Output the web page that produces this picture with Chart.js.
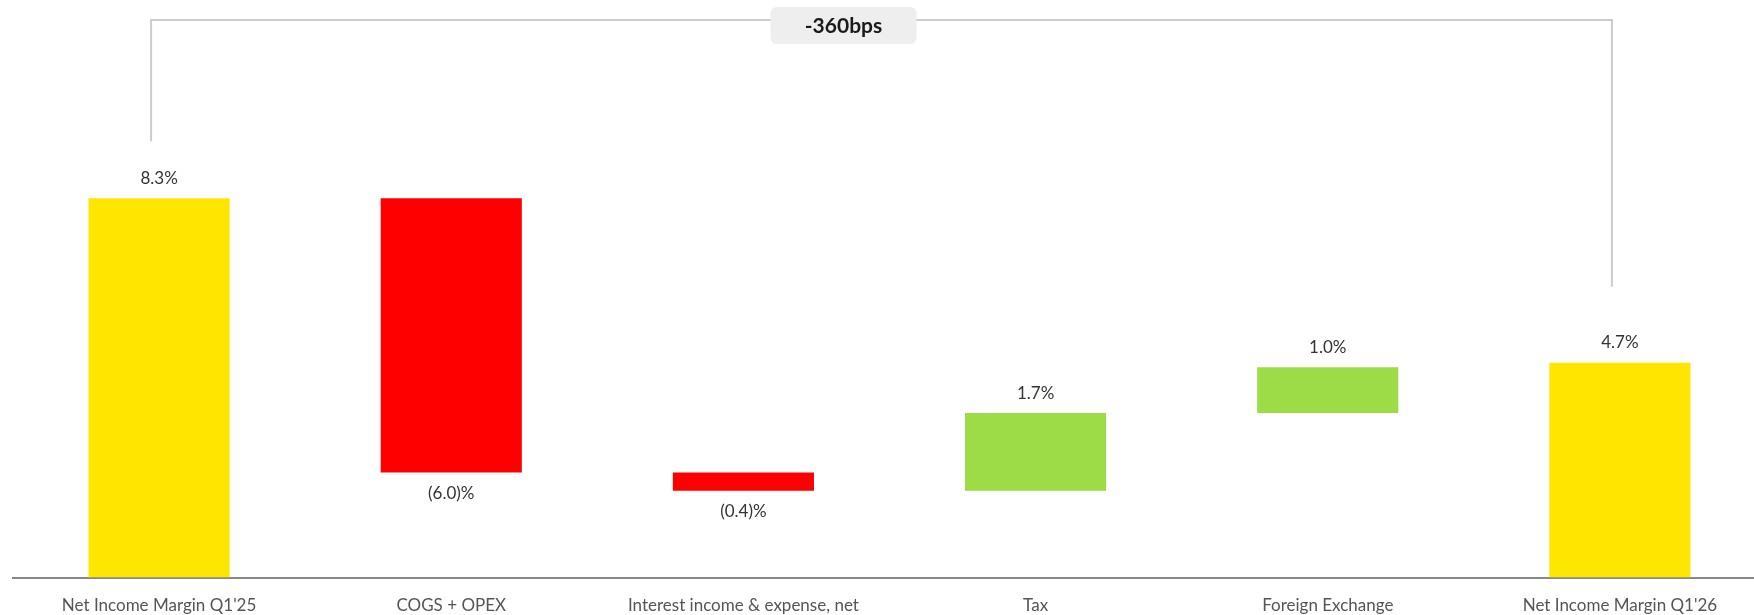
<!DOCTYPE html>
<html>
<head>
<meta charset="utf-8">
<script src="https://cdn.jsdelivr.net/npm/chart.js@4"></script>
<style>
  html, body { margin: 0; padding: 0; background: #fff; overflow: hidden; }
  #wrap { width: 1766px; height: 634px; }
</style>
</head>
<body>
<div id="wrap"><canvas id="grafico"></canvas></div>
<script>
// categorias e valores (em %)
const categorias = ["Net Income Margin Q1'25", "COGS + OPEX", "Interest income & expense, net", "Tax", "Foreign Exchange", "Net Income Margin Q1'26"];
const valores = [8.3, -6.0, -0.4, 1.7, 1.0, 4.7];
const tipos = ["total", "delta", "delta", "delta", "delta", "total"];
const rotuloVariacao = "-360bps";

const corTotal = "#FFE600";
const corNegativo = "#FF0000";
const corPositivo = "#9DDB47";

// monta as barras flutuantes a partir dos valores
let acumulado = 0;
const faixas = valores.map((v, i) => {
    if (tipos[i] === "total") {
        acumulado = v;
        return [0, v];
    }
    const inicio = acumulado;
    acumulado = +(acumulado + v).toFixed(2);
    return [inicio, acumulado];
});
const cores = valores.map((v, i) => tipos[i] === "total" ? corTotal : (v < 0 ? corNegativo : corPositivo));

function formatar(v) {
    return v < 0 ? "(" + Math.abs(v).toFixed(1) + ")%" : v.toFixed(1) + "%";
}

const fonte = "Lato, 'Open Sans', sans-serif";

// rotulos de valor
const pluginRotulos = {
    id: "rotulos",
    afterDatasetsDraw(chart) {
        const ctx = chart.ctx;
        const meta = chart.getDatasetMeta(0);
        ctx.save();
        ctx.font = "17px " + fonte;
        ctx.fillStyle = "#333";
        ctx.textAlign = "center";
        ctx.textBaseline = "middle";
        meta.data.forEach((bar, i) => {
            const topo = Math.min(bar.y, bar.base);
            const fundo = Math.max(bar.y, bar.base);
            const y = valores[i] < 0 ? fundo + 21 : topo - 20;
            ctx.fillText(formatar(valores[i]), bar.x, y);
        });
        ctx.restore();
    }
};

// colchete com a variacao
const pluginColchete = {
    id: "colchete",
    afterDatasetsDraw(chart) {
        const ctx = chart.ctx;
        const meta = chart.getDatasetMeta(0);
        const a = meta.data[0], b = meta.data[meta.data.length - 1];
        const xa = a.x - 8, xb = b.x - 8;
        const yTopo = 20;
        ctx.save();
        ctx.strokeStyle = "#cccccc";
        ctx.lineWidth = 2;
        ctx.beginPath();
        ctx.moveTo(xa, Math.min(a.y, a.base) - 57);
        ctx.lineTo(xa, yTopo);
        ctx.lineTo(xb, yTopo);
        ctx.lineTo(xb, Math.min(b.y, b.base) - 76);
        ctx.stroke();

        const cx = (xa + xb) / 2 - 38;
        const w = 146, h = 37;
        ctx.fillStyle = "#eeeeee";
        ctx.beginPath();
        ctx.roundRect(cx - w / 2, 7, w, h, 6);
        ctx.fill();
        ctx.font = "bold 21px " + fonte;
        ctx.fillStyle = "#1a1a1a";
        ctx.textAlign = "center";
        ctx.textBaseline = "middle";
        ctx.fillText(rotuloVariacao, cx, 26);
        ctx.restore();
    }
};

const grafico = new Chart(document.getElementById("grafico"), {
    type: "bar",
    data: {
        labels: categorias,
        datasets: [{
            data: faixas,
            backgroundColor: cores,
            borderWidth: 0,
            categoryPercentage: 1,
            barPercentage: 0.483
        }]
    },
    options: {
        responsive: true,
        maintainAspectRatio: false,
        animation: false,
        layout: { padding: { left: 13, right: 0, top: 29, bottom: 0 } },
        plugins: { legend: { display: false }, tooltip: { enabled: false } },
        scales: {
            x: {
                grid: { display: false, drawTicks: false },
                border: { display: true, color: "#888888", width: 2 },
                ticks: { color: "#555", font: { family: fonte, size: 17 }, padding: 18, maxRotation: 0, autoSkip: false }
            },
            y: {
                display: false,
                min: 0,
                max: 12
            }
        }
    },
    plugins: [pluginRotulos, pluginColchete]
});
</script>
</body>
</html>
